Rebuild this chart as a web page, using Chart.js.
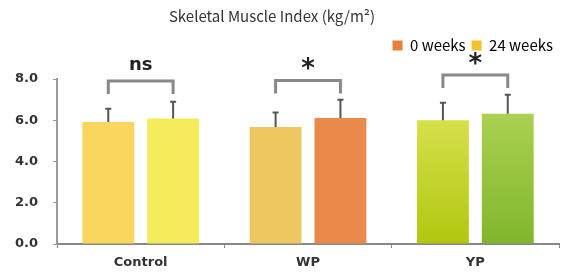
<!DOCTYPE html>
<html>
<head>
<meta charset="utf-8">
<script src="https://cdn.jsdelivr.net/npm/chart.js@4.4.0/dist/chart.umd.min.js"></script>
<style>
  html, body { margin: 0; padding: 0; background: #fff; }
  #wrap { width: 567px; height: 277px; }
</style>
</head>
<body>
<div id="wrap"><canvas id="smi-chart" width="567" height="277"></canvas></div>
<script>
// data
const categories = ['Control', 'WP', 'YP'];
const seriesNames = ['0 weeks', '24 weeks'];
const week0 = [5.92, 5.67, 6.00];
const week24 = [6.08, 6.11, 6.32];
const week0Err = [0.64, 0.70, 0.85];
const week24Err = [0.82, 0.89, 0.92];
const sigLabels = ['ns', '*', '*'];
const sigLevel = [7.9, 7.93, 8.2];
const yTicks = [0, 2, 4, 6, 8];

const chartTitle = 'Skeletal Muscle Index (kg/m\u00B2)';

// styling
const week0Colors = ['#FBD65E', '#EFC760', ['#D6E04A', '#B0C70F']];
const week24Colors = ['#F5EC5C', '#EA8A4A', ['#AAD152', '#80B62B']];
const legendColors = ['#E8823A', '#F5C02A'];

function barColor(colors) {
    return (ctx) => {
        const c = colors[ctx.dataIndex];
        if (!Array.isArray(c)) return c;
        const chart = ctx.chart;
        const area = chart.chartArea;
        if (!area) return c[0];
        const yScale = chart.scales.y;
        const top = yScale.getPixelForValue(ctx.raw);
        const g = chart.ctx.createLinearGradient(0, top, 0, area.bottom);
        g.addColorStop(0, c[0]);
        g.addColorStop(1, c[1]);
        return g;
    };
}

// error bars, significance brackets and the title
const extrasPlugin = {
    id: 'extras',
    afterDatasetsDraw(chart) {
        const ctx = chart.ctx;
        const yScale = chart.scales.y;
        const errs = [week0Err, week24Err];
        const vals = [week0, week24];

        ctx.save();
        ctx.strokeStyle = '#555';
        ctx.lineWidth = 2;
        errs.forEach((errArr, di) => {
            const meta = chart.getDatasetMeta(di);
            meta.data.forEach((bar, i) => {
                const yTop = yScale.getPixelForValue(vals[di][i] + errArr[i]);
                ctx.beginPath();
                ctx.moveTo(bar.x, bar.y);
                ctx.lineTo(bar.x, yTop);
                ctx.moveTo(bar.x - 3, yTop);
                ctx.lineTo(bar.x + 3, yTop);
                ctx.stroke();
            });
        });

        // brackets
        const m0 = chart.getDatasetMeta(0);
        const m1 = chart.getDatasetMeta(1);
        ctx.strokeStyle = '#888';
        ctx.lineWidth = 3;
        ctx.fillStyle = '#222';
        ctx.textAlign = 'center';
        categories.forEach((cat, i) => {
            const x1 = m0.data[i].x;
            const x2 = m1.data[i].x;
            const y = yScale.getPixelForValue(sigLevel[i]);
            ctx.beginPath();
            ctx.moveTo(x1, y + 13);
            ctx.lineTo(x1, y);
            ctx.lineTo(x2, y);
            ctx.lineTo(x2, y + 13);
            ctx.stroke();
            const mid = (x1 + x2) / 2;
            if (sigLabels[i] === '*') {
                ctx.font = 'bold 26px "DejaVu Sans"';
                ctx.textBaseline = 'alphabetic';
                ctx.fillText(sigLabels[i], mid, y - 3);
            } else {
                ctx.font = 'bold 18px "DejaVu Sans"';
                ctx.textBaseline = 'middle';
                ctx.fillText(sigLabels[i], mid, y - 16);
            }
        });

        // title
        ctx.font = '15px "Noto Sans CJK KR"';
        ctx.fillStyle = '#333';
        ctx.textBaseline = 'middle';
        ctx.fillText(chartTitle, 272, 16);
        ctx.restore();
    }
};

// give the legend some room underneath
const legendGapPlugin = {
    id: 'legendGap',
    beforeInit(chart) {
        const origFit = chart.legend.fit;
        chart.legend.fit = function fit() {
            origFit.bind(chart.legend)();
            this.height += 16;
        };
    }
};

const ctx = document.getElementById('smi-chart').getContext('2d');
new Chart(ctx, {
    type: 'bar',
    data: {
        labels: categories,
        datasets: [
            {
                label: seriesNames[0],
                data: week0,
                backgroundColor: barColor(week0Colors),
                categoryPercentage: 0.775,
                barPercentage: 0.8
            },
            {
                label: seriesNames[1],
                data: week24,
                backgroundColor: barColor(week24Colors),
                categoryPercentage: 0.775,
                barPercentage: 0.8
            }
        ]
    },
    options: {
        responsive: false,
        animation: false,
        layout: { padding: { top: 32, left: 0, right: 8, bottom: 0 } },
        plugins: {
            title: { display: false },
            tooltip: { enabled: false },
            legend: {
                position: 'top',
                align: 'end',
                labels: {
                    boxWidth: 10,
                    boxHeight: 10,
                    padding: 6,
                    color: '#333',
                    font: { family: 'Noto Sans CJK KR', size: 15, lineHeight: 1.0 },
                    generateLabels: () => seriesNames.map((name, i) => ({
                        text: name,
                        fillStyle: legendColors[i],
                        strokeStyle: legendColors[i],
                        lineWidth: 0,
                        datasetIndex: i
                    }))
                }
            }
        },
        scales: {
            x: {
                grid: {
                    display: true,
                    offset: true,
                    drawOnChartArea: false,
                    tickLength: 4,
                    color: '#888'
                },
                border: { display: true, color: '#888', width: 2 },
                ticks: {
                    padding: 8,
                    color: '#333',
                    font: { family: 'DejaVu Sans', size: 13, weight: 'bold', lineHeight: 1.0 }
                }
            },
            y: {
                min: yTicks[0],
                max: yTicks[yTicks.length - 1],
                afterBuildTicks: (scale) => {
                    scale.ticks = yTicks.map(v => ({ value: v }));
                },
                grid: {
                    display: true,
                    drawOnChartArea: false,
                    tickLength: 4,
                    color: '#999'
                },
                border: { display: true, color: '#999', width: 2 },
                ticks: {
                    padding: 15,
                    color: '#333',
                    font: { family: 'DejaVu Sans', size: 13, weight: 'bold' },
                    callback: (v) => Number(v).toFixed(1)
                }
            }
        }
    },
    plugins: [legendGapPlugin, extrasPlugin]
});
</script>
</body>
</html>
